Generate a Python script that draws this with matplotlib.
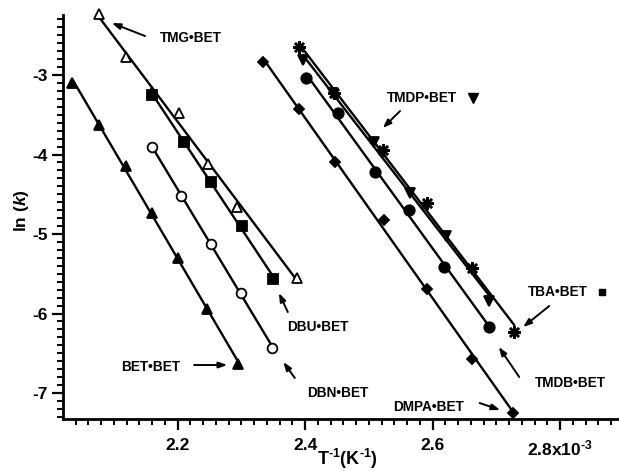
import matplotlib

matplotlib.use("Agg")
import matplotlib.pyplot as plt
import numpy as np
from matplotlib.ticker import MultipleLocator

plt.rcParams["font.family"] = ["Liberation Sans", "DejaVu Sans"]
plt.rcParams["font.weight"] = "bold"
plt.rcParams["axes.unicode_minus"] = False
plt.rcParams["mathtext.fontset"] = "custom"
plt.rcParams["mathtext.rm"] = "Liberation Sans:bold"
plt.rcParams["mathtext.bf"] = "Liberation Sans:bold"
plt.rcParams["mathtext.it"] = "Liberation Sans:italic:bold"
plt.rcParams["mathtext.default"] = "bf"

# 1/T values (x 10^-3 K^-1) and ln(k)
bet_x = [2.035, 2.077, 2.119, 2.160, 2.201, 2.246, 2.295]
bet_y = [-3.10, -3.63, -4.15, -4.74, -5.30, -5.94, -6.64]

tmg_x = [2.077, 2.119, 2.160, 2.202, 2.248, 2.293, 2.388]
tmg_y = [-2.23, -2.77, -3.21, -3.48, -4.12, -4.66, -5.55]

dbu_x = [2.160, 2.210, 2.253, 2.301, 2.350]
dbu_y = [-3.25, -3.84, -4.35, -4.90, -5.57]

dbn_x = [2.160, 2.206, 2.253, 2.300, 2.348]
dbn_y = [-3.91, -4.52, -5.13, -5.74, -6.43]

dmpa_x = [2.334, 2.391, 2.447, 2.524, 2.591, 2.662, 2.726]
dmpa_y = [-2.84, -3.43, -4.09, -4.82, -5.69, -6.57, -7.25]

tba_x = [2.391, 2.446, 2.522, 2.591, 2.662, 2.728]
tba_y = [-2.65, -3.23, -3.94, -4.61, -5.43, -6.23]

tmdp_x = [2.397, 2.444, 2.508, 2.565, 2.621, 2.689]
tmdp_y = [-2.81, -3.23, -3.84, -4.49, -5.02, -5.84]

tmdb_x = [2.402, 2.452, 2.510, 2.563, 2.618, 2.689]
tmdb_y = [-3.04, -3.48, -4.22, -4.70, -5.42, -6.17]

series = [
    (bet_x, bet_y, dict(marker="^", mfc="black", ms=7.5)),
    (tmg_x, tmg_y, dict(marker="^", mfc="white", ms=7.5)),
    (dbu_x, dbu_y, dict(marker="s", mfc="black", ms=7)),
    (dbn_x, dbn_y, dict(marker="o", mfc="white", ms=7)),
    (dmpa_x, dmpa_y, dict(marker="D", mfc="black", ms=5)),
    (tba_x, tba_y, dict(marker=(8, 2, 0), mfc="black", ms=9, mew=1.8)),
    (tmdp_x, tmdp_y, dict(marker="v", mfc="black", ms=7.5)),
    (tmdb_x, tmdb_y, dict(marker="o", mfc="black", ms=7.5)),
]

# (text, text xy, arrow tail, arrow head)
annotations = [
    ("TMG\u2022BET", (2.172, -2.535), (2.149, -2.509), (2.097, -2.346)),
    ("TMDP\u2022BET", (2.529, -3.289), (2.549, -3.453), (2.522, -3.667)),
    ("TBA\u2022BET", (2.750, -5.730), (2.783, -5.906), (2.742, -6.170)),
    ("TMDB\u2022BET", (2.761, -6.874), (2.736, -6.799), (2.704, -6.421)),
    ("DMPA\u2022BET", (2.538, -7.176), (2.674, -7.126), (2.706, -7.214)),
    ("DBN\u2022BET", (2.403, -7.000), (2.384, -6.811), (2.366, -6.610)),
    ("DBU\u2022BET", (2.372, -6.170), (2.373, -5.981), (2.359, -5.742)),
    ("BET\u2022BET", (2.111, -6.673), (2.226, -6.648), (2.278, -6.648)),
]

fig = plt.figure(figsize=(6.19, 4.71), dpi=100)
ax = fig.add_axes([0.1018, 0.1104, 0.8982, 0.8577])

for xs, ys, style in series:
    xs = np.array(xs)
    ys = np.array(ys)
    slope, intercept = np.polyfit(xs, ys, 1)
    line_x = np.array([xs.min(), xs.max()])
    ax.plot(line_x, slope * line_x + intercept, color="black", lw=1.7,
            clip_on=False, zorder=2)
    ax.plot(xs, ys, linestyle="none", mec="black", clip_on=False, zorder=3,
            **{"mew": 1.3, **style})

for label, text_xy, tail, head in annotations:
    ax.text(text_xy[0], text_xy[1], label, fontsize=9.8, fontweight="bold",
            ha="left", va="center")
    ax.annotate("", xy=head, xytext=tail,
                arrowprops=dict(arrowstyle="-|>,head_length=0.5,head_width=0.18",
                                color="black", lw=1.4, shrinkA=0, shrinkB=0))

# key markers next to two labels
ax.plot([2.6635], [-3.289], marker="v", color="black", ms=6.5, linestyle="none")
ax.plot([2.8659], [-5.730], marker="s", color="black", ms=4.5, linestyle="none")

ax.set_xlim(2.0204, 2.8925)
ax.set_ylim(-7.327, -2.245)
ax.set_xticks([2.2, 2.4, 2.6, 2.8])
ax.set_xticklabels(["2.2", "2.4", "2.6", r"2.8x10$^{\text{-3}}$"])
ax.xaxis.set_minor_locator(MultipleLocator(0.02))
ax.set_yticks([-3, -4, -5, -6, -7])
ax.set_yticklabels(["-3", "-4", "-5", "-6", "-7"])
ax.yaxis.set_minor_locator(MultipleLocator(0.1))
ax.tick_params(which="major", direction="out", length=8, width=1.6,
               labelsize=12.5)
ax.tick_params(axis="x", which="major", pad=6)
ax.tick_params(axis="y", which="major", pad=3)
ax.tick_params(which="minor", direction="out", length=4.5, width=1.4)
for lab in ax.get_xticklabels() + ax.get_yticklabels():
    lab.set_fontweight("bold")

for spine in ("top", "right"):
    ax.spines[spine].set_visible(False)
for spine in ("left", "bottom"):
    ax.spines[spine].set_linewidth(2.0)

ax.set_xlabel(r"T$^{\text{-1}}$(K$^{\text{-1}}$)", fontsize=13, fontweight="bold",
              va="center")
ax.xaxis.set_label_coords(0.511, -0.1)
ax.set_ylabel(r"ln ($\mathit{k}$)", fontsize=12.5, fontweight="bold", va="center")
ax.yaxis.set_label_coords(-0.074, 0.517)

fig.savefig("out.png", dpi=100)
